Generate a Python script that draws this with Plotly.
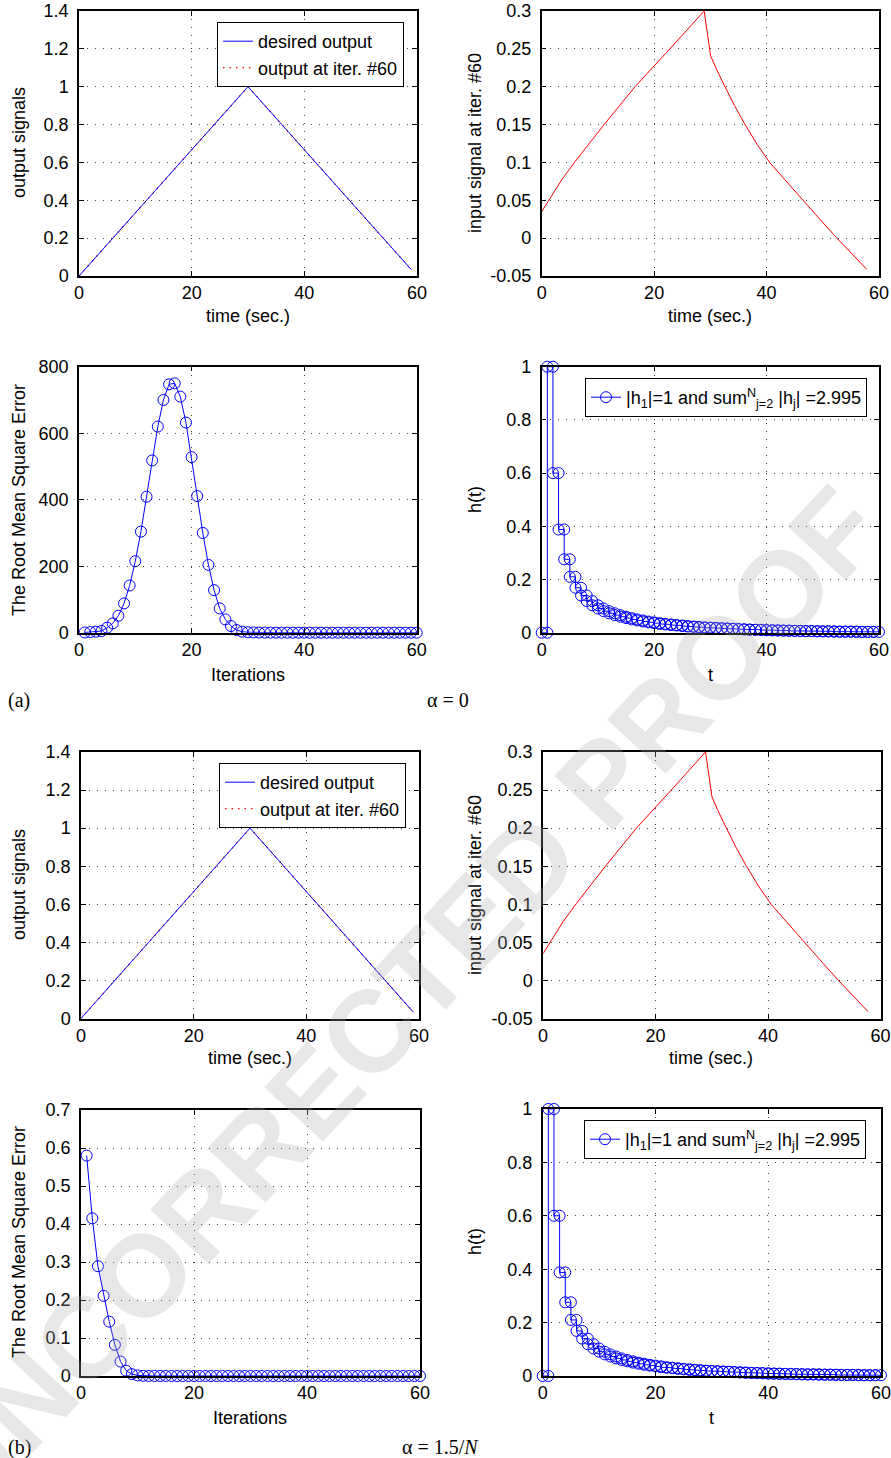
import plotly.graph_objects as go
from plotly.subplots import make_subplots

W, H = 891, 1458

# ---------------- data ----------------
# desired output / output at iteration 60 (triangle)
time_out = [0, 30, 59]
desired_output = [0, 1.0, 0.0333]
output_iter60 = [0, 1.0, 0.0333]

# input signal at iteration 60
time_in = [0, 1.19, 2.37, 3.56, 4.74, 5.93, 11.1, 16.6, 22.8, 28.9,
           30.04, 31.1, 32.6, 34.3, 36.1, 38.3, 40.6, 43.6, 46.8, 49.6,
           52.4, 55.2, 57.8]
input_signal = [0.035, 0.049, 0.064, 0.077, 0.089, 0.101, 0.150, 0.200, 0.250, 0.300,
                0.241, 0.223, 0.200, 0.175, 0.151, 0.124, 0.0995, 0.074, 0.048, 0.024,
                0.001, -0.021, -0.041]

iterations = list(range(1, 61))
rmse_a = [0.6, 2, 3, 5, 15, 28, 51, 88, 142, 215,
          304, 409, 518, 620, 700, 747, 750, 710, 632, 528,
          411, 300, 204, 128, 73, 40, 20, 8, 3, 1.5,
          0.8, 0.5, 0.3, 0.2, 0.1, 0.1, 0.1, 0.05, 0.05, 0.05,
          0.02, 0.02, 0.02, 0.02, 0.01, 0.01, 0.01, 0.01, 0.01, 0.01,
          0.01, 0.01, 0.01, 0.01, 0.01, 0.01, 0.01, 0.01, 0.01, 0.01]
rmse_b = [0.58, 0.415, 0.289, 0.211, 0.143, 0.082, 0.038, 0.014, 0.005, 0.0015,
          0.0005, 0.0002, 0.0001, 0.0001, 0.0001, 0.0, 0.0, 0.0, 0.0, 0.0,
          0.0, 0.0, 0.0, 0.0, 0.0, 0.0, 0.0, 0.0, 0.0, 0.0,
          0.0, 0.0, 0.0, 0.0, 0.0, 0.0, 0.0, 0.0, 0.0, 0.0,
          0.0, 0.0, 0.0, 0.0, 0.0, 0.0, 0.0, 0.0, 0.0, 0.0,
          0.0, 0.0, 0.0, 0.0, 0.0, 0.0, 0.0, 0.0, 0.0, 0.0]

# impulse response h (stairs), h[0] .. h[59]
h_values = [0.0, 1.0, 0.600, 0.388, 0.276, 0.210, 0.169, 0.140, 0.119, 0.103,
            0.091, 0.081, 0.073, 0.066, 0.060, 0.055, 0.050, 0.046, 0.042, 0.039,
            0.036, 0.033, 0.031, 0.029, 0.027, 0.025, 0.023, 0.022, 0.020, 0.019,
            0.018, 0.017, 0.016, 0.015, 0.014, 0.013, 0.012, 0.011, 0.011, 0.010,
            0.009, 0.009, 0.008, 0.008, 0.007, 0.007, 0.006, 0.006, 0.006, 0.005,
            0.005, 0.005, 0.004, 0.004, 0.004, 0.004, 0.003, 0.003, 0.003, 0.003]

# stairs corners derived from the data
h_x, h_y = [], []
for k, v in enumerate(h_values):
    h_x += [k, k + 1]
    h_y += [v, v]

x_ticks = [0, 20, 40, 60]
y1_ticks = [0, 0.2, 0.4, 0.6, 0.8, 1.0, 1.2, 1.4]
y1_text = ["0", "0.2", "0.4", "0.6", "0.8", "1", "1.2", "1.4"]
y2_ticks = [-0.05, 0, 0.05, 0.1, 0.15, 0.2, 0.25, 0.3]
y2_text = ["-0.05", "0", "0.05", "0.1", "0.15", "0.2", "0.25", "0.3"]
y3_ticks = [0, 200, 400, 600, 800]
y4_ticks = [0, 0.2, 0.4, 0.6, 0.8, 1.0]
y4_text = ["0", "0.2", "0.4", "0.6", "0.8", "1"]
y5_ticks = [0, 0.1, 0.2, 0.3, 0.4, 0.5, 0.6, 0.7]
y5_text = ["0", "0.1", "0.2", "0.3", "0.4", "0.5", "0.6", "0.7"]

legend_h = "|h<sub>1</sub>|=1 and sum<sup>N</sup><sub>j=2</sub> |h<sub>j</sub>| =2.995"

BLUE = "#0000ff"
RED = "#ff0000"
FONT = "Liberation Sans, Arial, Helvetica, sans-serif"
SERIF = "Liberation Serif, Times New Roman, serif"
FS = 18

fig = make_subplots(rows=4, cols=2)

def add_output(row, legend):
    fig.add_trace(go.Scatter(x=time_out, y=output_iter60, mode="lines",
                             line=dict(color=RED, width=1.2, dash="1.5px,5px"),
                             name="output at iter. #60", legend=legend, legendrank=2),
                  row=row, col=1)
    fig.add_trace(go.Scatter(x=time_out, y=desired_output, mode="lines",
                             line=dict(color=BLUE, width=1), name="desired output",
                             legend=legend, legendrank=1), row=row, col=1)

def add_input(row):
    fig.add_trace(go.Scatter(x=time_in, y=input_signal, mode="lines",
                             line=dict(color=RED, width=1), showlegend=False),
                  row=row, col=2)

def add_rmse(row, vals):
    fig.add_trace(go.Scatter(x=iterations, y=vals, mode="lines+markers",
                             line=dict(color=BLUE, width=1),
                             marker=dict(symbol="circle-open", size=11, color=BLUE,
                                         line=dict(width=1, color=BLUE)),
                             cliponaxis=False, showlegend=False), row=row, col=1)

def add_h(row, legend):
    fig.add_trace(go.Scatter(x=h_x, y=h_y, mode="lines+markers",
                             line=dict(color=BLUE, width=1),
                             marker=dict(symbol="circle-open", size=11, color=BLUE,
                                         line=dict(width=1, color=BLUE)),
                             cliponaxis=False, name=legend_h, legend=legend),
                  row=row, col=2)

add_output(1, "legend")
add_input(1)
add_rmse(2, rmse_a)
add_h(2, "legend2")
add_output(3, "legend3")
add_input(3)
add_rmse(4, rmse_b)
add_h(4, "legend4")

def xd(a, b):
    return [a / W, b / W]

def yd(top, bottom):
    return [1 - bottom / H, 1 - top / H]

domains = {
    (1, 1): (xd(79, 417), yd(11, 276)),
    (1, 2): (xd(541.7, 879), yd(11, 276)),
    (2, 1): (xd(79, 416.7), yd(366.7, 632.7)),
    (2, 2): (xd(541.7, 879), yd(366.7, 632.7)),
    (3, 1): (xd(81, 419), yd(752, 1018.5)),
    (3, 2): (xd(543, 880.5), yd(752, 1018.5)),
    (4, 1): (xd(81, 420), yd(1110, 1376)),
    (4, 2): (xd(542.7, 881), yd(1109, 1376)),
}
yspec = {
    (1, 1): ([0, 1.4], y1_ticks, y1_text),
    (1, 2): ([-0.05, 0.3], y2_ticks, y2_text),
    (2, 1): ([0, 800], y3_ticks, [str(v) for v in y3_ticks]),
    (2, 2): ([0, 1], y4_ticks, y4_text),
    (3, 1): ([0, 1.4], y1_ticks, y1_text),
    (3, 2): ([-0.05, 0.3], y2_ticks, y2_text),
    (4, 1): ([0, 0.7], y5_ticks, y5_text),
    (4, 2): ([0, 1], y4_ticks, y4_text),
}

common = dict(showline=True, linecolor="black", linewidth=1.5, mirror="allticks",
              ticks="inside", ticklen=5, tickcolor="black", tickwidth=1,
              showgrid=True, gridcolor="#444444", griddash="1px,7px", gridwidth=1,
              zeroline=False, automargin=False, ticklabeloverflow="allow",
              tickfont=dict(family=FONT, size=FS, color="black"))

for (r, c), (dx, dy) in domains.items():
    fig.update_xaxes(domain=dx, range=[0, 60], tickvals=x_ticks,
                     ticktext=[str(v) for v in x_ticks], row=r, col=c, **common)
    rng, tv, tt = yspec[(r, c)]
    fig.update_yaxes(domain=dy, range=rng, tickvals=tv, ticktext=tt,
                     ticklabelstandoff=5, row=r, col=c, **common)

leg_common = dict(bgcolor="white", bordercolor="black", borderwidth=1,
                  font=dict(family=FONT, size=FS, color="black"),
                  xanchor="right", yanchor="top", tracegroupgap=0,
                  itemwidth=30)
fig.update_layout(
    legend=dict(x=404 / W, y=1 - 22 / H, **leg_common),
    legend2=dict(x=867 / W, y=1 - 378 / H, **leg_common),
    legend3=dict(x=406 / W, y=1 - 763 / H, **leg_common),
    legend4=dict(x=866 / W, y=1 - 1120 / H, **leg_common),
)

ann = []
def text_at(x, y, text, size=FS, angle=0, family=FONT):
    ann.append(dict(x=x / W, y=1 - y / H, xref="paper", yref="paper", text=text,
                    showarrow=False, textangle=angle, xanchor="center", yanchor="middle",
                    font=dict(family=family, size=size, color="black")))

# axis titles
text_at(19, 143, "output signals", angle=-90)
text_at(248, 316, "time (sec.)")
text_at(475, 143, "input signal at iter. #60", angle=-90)
text_at(710, 316, "time (sec.)")
text_at(19, 500, "The Root Mean Square Error", angle=-90)
text_at(248, 675, "Iterations")
text_at(475, 500, "h(t)", angle=-90)
text_at(710, 675, "t")
text_at(19, 885, "output signals", angle=-90)
text_at(250, 1058, "time (sec.)")
text_at(475, 885, "input signal at iter. #60", angle=-90)
text_at(711, 1058, "time (sec.)")
text_at(19, 1242, "The Root Mean Square Error", angle=-90)
text_at(250, 1418, "Iterations")
text_at(475, 1242, "h(t)", angle=-90)
text_at(711, 1418, "t")
# panel labels
text_at(19, 700, "(a)", size=20, family=SERIF)
text_at(448, 700, "α = 0", size=20, family=SERIF)
text_at(19, 1447, "(b)", size=20, family=SERIF)
text_at(440, 1447, "α = 1.5/<i>N</i>", size=20, family=SERIF)

# watermark
ann.append(dict(x=400 / W, y=1 - 1000 / H, xref="paper", yref="paper",
                text="<b>UNCORRECTED PROOF</b>", showarrow=False, textangle=-47,
                xanchor="center", yanchor="middle",
                font=dict(family=FONT, size=116, color="rgba(170,170,170,0.28)")))

fig.update_layout(annotations=ann, width=W, height=H,
                  margin=dict(l=0, r=0, t=0, b=0, autoexpand=False),
                  paper_bgcolor="white", plot_bgcolor="rgba(0,0,0,0)",
                  font=dict(family=FONT, size=FS, color="black"))

fig.write_html("out.html", config={"displayModeBar": False},
               post_script="document.body.style.margin='0px';document.body.style.padding='0px';")
